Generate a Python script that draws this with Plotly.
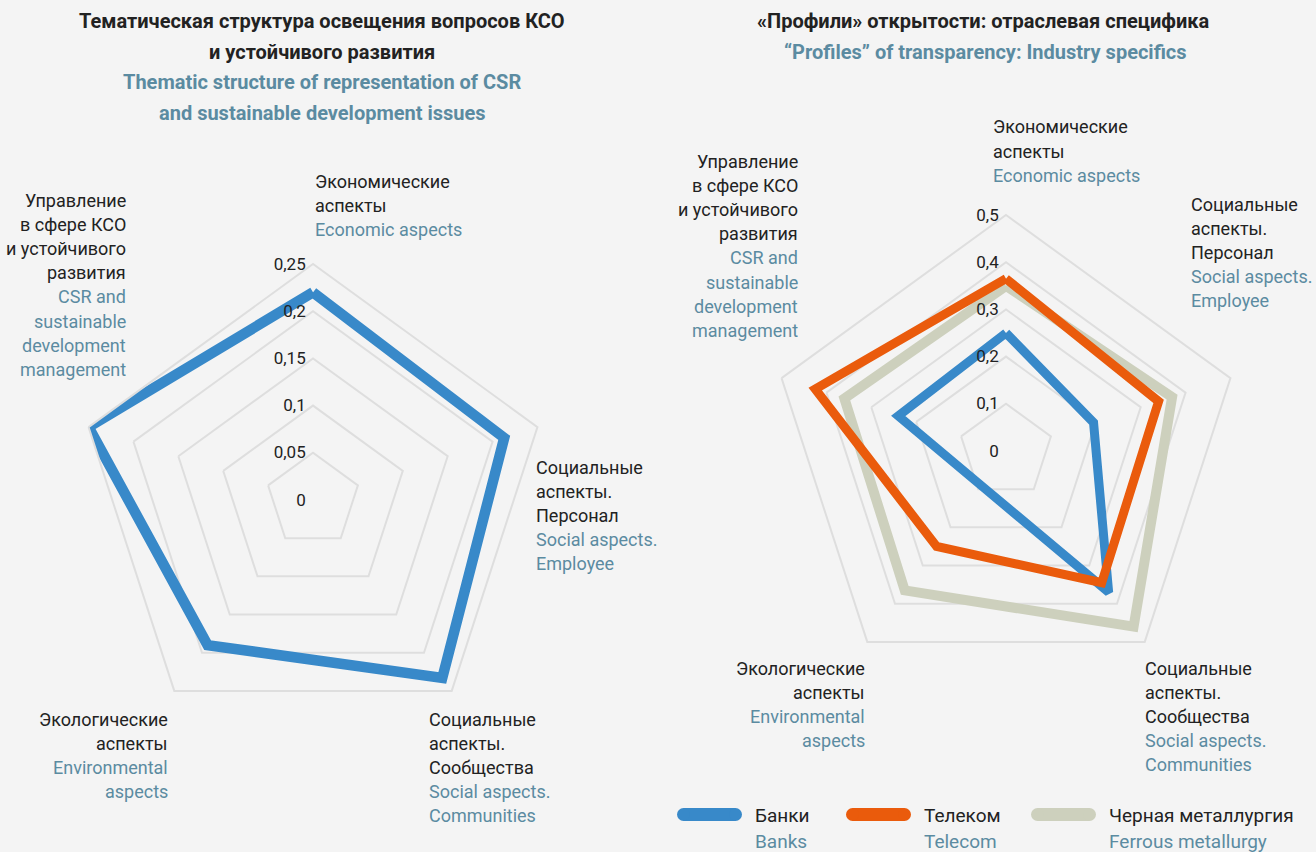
import plotly.graph_objects as go

# axis categories (clockwise from the top)
categories = ["Экономические аспекты", "Социальные аспекты. Персонал",
              "Социальные аспекты. Сообщества", "Экологические аспекты",
              "Управление в сфере КСО и устойчивого развития"]

# two-language labels of each category, one list of lines per category
labels_ru = [["Экономические", "аспекты"],
             ["Социальные", "аспекты.", "Персонал"],
             ["Социальные", "аспекты.", "Сообщества"],
             ["Экологические", "аспекты"],
             ["Управление", "в сфере КСО", "и устойчивого", "развития"]]
labels_en = [["Economic aspects"],
             ["Social aspects.", "Employee"],
             ["Social aspects.", "Communities"],
             ["Environmental", "aspects"],
             ["CSR and", "sustainable", "development", "management"]]

# left chart: overall thematic structure
overall = [0.22, 0.213, 0.233, 0.19, 0.25]

# right chart: industry profiles
industries_ru = ["Банки", "Телеком", "Черная металлургия"]
industries_en = ["Banks", "Telecom", "Ferrous metallurgy"]
banks = [0.25, 0.195, 0.37, 0.09, 0.24]
telecom = [0.365, 0.34, 0.345, 0.25, 0.425]
ferrous = [0.35, 0.37, 0.46, 0.365, 0.36]

left_title = ["Тематическая структура освещения вопросов КСО", "и устойчивого развития"]
left_title_en = ["Thematic structure of representation of CSR", "and sustainable development issues"]
right_title = ["«Профили» открытости: отраслевая специфика"]
right_title_en = ["“Profiles” of transparency: Industry specifics"]

W, H = 1316, 852
BG = "#f4f4f4"
DARK = "#222222"
MUTED = "#5b8ba1"
GRID = "#dedede"
FONT = "Roboto, sans-serif"
IND_COLORS = ["#3889c9", "#ea5b0c", "#cdd0bd"]


def px(x):
    return x / W


def py(y):
    return 1 - y / H


def closed(vals):
    return vals + vals[:1]


fig = go.Figure()

fig.add_trace(go.Scatterpolar(
    r=closed(overall), theta=closed(categories), mode="lines",
    line=dict(color=IND_COLORS[0], width=10.5), subplot="polar", showlegend=False,
))

# ferrous below, telecom on top
for k, vals, w in [(2, ferrous, 10), (0, banks, 9), (1, telecom, 9)]:
    fig.add_trace(go.Scatterpolar(
        r=closed(vals), theta=closed(categories), mode="lines",
        line=dict(color=IND_COLORS[k], width=w), subplot="polar2",
        name=industries_ru[k], showlegend=False,
    ))


def polar_layout(cx, cy, R, rmax, dtick):
    return dict(
        domain=dict(x=[px(cx - R), px(cx + R)], y=[py(cy + R), py(cy - R)]),
        bgcolor=BG,
        gridshape="linear",
        angularaxis=dict(rotation=90, direction="clockwise", showticklabels=False,
                         ticks="", showgrid=False, showline=True,
                         linecolor=GRID, linewidth=2),
        radialaxis=dict(range=[0, rmax], dtick=dtick, angle=90, tickangle=90,
                        side="counterclockwise", showline=False, ticks="",
                        ticksuffix="\u00a0", gridcolor=GRID, gridwidth=2,
                        tickfont=dict(size=17, color=DARK, family=FONT)),
    )


annotations = []
shapes = []


def add_lines(lines, color, x, y0, step, anchor, size=18, bold=False):
    for i, t in enumerate(lines):
        annotations.append(dict(
            text=f"<b>{t}</b>" if bold else t, x=px(x), y=py(y0 + i * step),
            xref="paper", yref="paper", xanchor=anchor, yanchor="middle",
            showarrow=False, font=dict(size=size, color=color, family=FONT),
        ))


def add_label(k, x, y0, anchor):
    ru, en = labels_ru[k], labels_en[k]
    add_lines(ru, DARK, x, y0, 24.2, anchor)
    add_lines(en, MUTED, x, y0 + 24.2 * len(ru), 24.2, anchor)


# titles
add_lines(left_title, DARK, 322, 21, 30.5, "center", size=20, bold=True)
add_lines(left_title_en, MUTED, 322, 82, 31, "center", size=20, bold=True)
add_lines(right_title, DARK, 983, 21, 31, "center", size=20, bold=True)
add_lines(right_title_en, MUTED, 985, 52, 31, "center", size=20, bold=True)

# left chart labels
add_label(0, 313, 181, "left")
add_label(1, 534, 467, "left")
add_label(2, 427, 719, "left")
add_label(3, 170, 719, "right")
add_label(4, 128, 200, "right")

# right chart labels
add_label(0, 991, 127, "left")
add_label(1, 1189, 204, "left")
add_label(2, 1143, 668, "left")
add_label(3, 867, 668, "right")
add_label(4, 800, 161, "right")

# legend: rounded swatches with two-language names
for k, x0 in enumerate([677, 846, 1031]):
    c = IND_COLORS[k]
    y0, y1 = 808, 821
    shapes.append(dict(type="rect", xref="paper", yref="paper",
                       x0=px(x0 + 6.5), x1=px(x0 + 58.5), y0=py(y1), y1=py(y0),
                       fillcolor=c, line=dict(width=0)))
    for cx in (x0, x0 + 52):
        shapes.append(dict(type="circle", xref="paper", yref="paper",
                           x0=px(cx), x1=px(cx + 13), y0=py(y1), y1=py(y0),
                           fillcolor=c, line=dict(width=0)))
    add_lines([industries_ru[k]], DARK, x0 + 76, 815, 0, "left", size=19)
    add_lines([industries_en[k]], MUTED, x0 + 76, 841, 0, "left", size=19)

fig.update_layout(
    width=W, height=H,
    margin=dict(l=0, r=0, t=0, b=0),
    paper_bgcolor=BG, plot_bgcolor=BG,
    separators=", ",
    font=dict(family=FONT, color=DARK),
    polar=polar_layout(313, 500, 236, 0.25, 0.05),
    polar2=polar_layout(1006, 451, 236, 0.5, 0.1),
    annotations=annotations,
    shapes=shapes,
    showlegend=False,
)

# drop the default page margin so the figure sits at the window corner
fig.write_html("out.html", config={"displayModeBar": False},
               post_script="document.body.style.margin = '0px';")
